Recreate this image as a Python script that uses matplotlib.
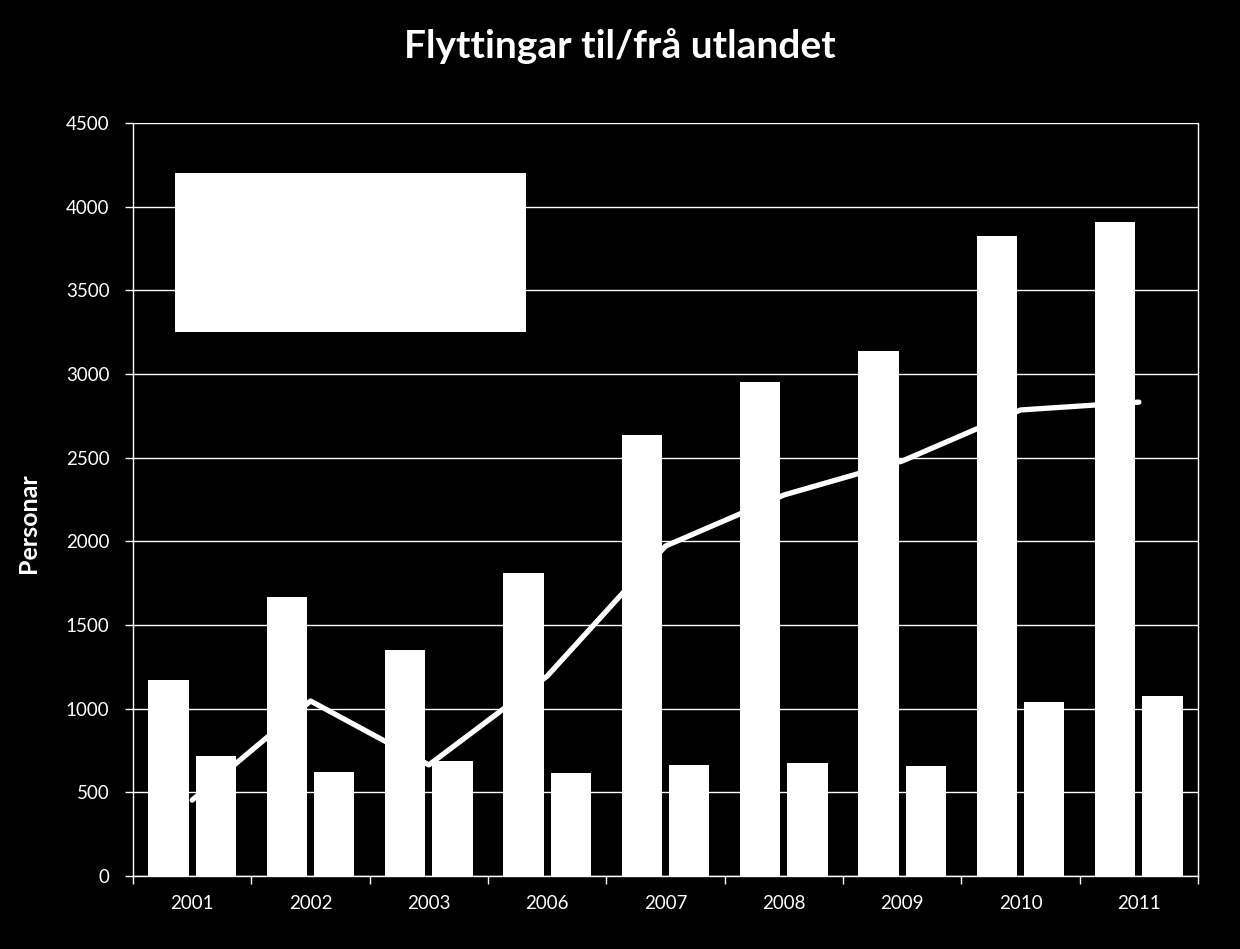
import matplotlib.pyplot as plt
import matplotlib.patches as mpatches
import numpy as np

plt.rcParams['font.family'] = ['Lato', 'DejaVu Sans']

years = ['2001', '2002', '2003', '2006', '2007', '2008', '2009', '2010', '2011']
innflytting = [1171, 1667, 1351, 1811, 2635, 2952, 3137, 3825, 3908]
utflytting = [717, 621, 687, 616, 663, 675, 657, 1040, 1076]
netto = [454, 1046, 664, 1195, 1972, 2277, 2480, 2785, 2832]

x = np.arange(len(years))

fig = plt.figure(figsize=(12.4, 9.49), dpi=100, facecolor='black')
ax = fig.add_axes([0.1073, 0.0769, 0.8589, 0.7935], facecolor='black')

ax.bar(x - 0.2, innflytting, width=0.34, color='white', zorder=2)
ax.bar(x + 0.2, utflytting, width=0.34, color='white', zorder=2)
ax.plot(x, netto, color='white', lw=3.8, solid_capstyle='round',
        solid_joinstyle='round', zorder=3)

ax.set_xlim(-0.5, len(years) - 0.5)
ax.set_ylim(0, 4500)
ax.set_yticks(np.arange(0, 4501, 500))
ax.yaxis.grid(True, color='white', lw=1)
ax.set_axisbelow(True)

ax.set_xticks(x)
ax.set_xticklabels(years)
ax.set_xticks(np.arange(-0.5, len(years)), minor=True)
ax.tick_params(axis='x', which='major', length=0, colors='white',
               labelsize=13.5, pad=14)
ax.tick_params(axis='x', which='minor', length=6, color='white', width=1)
ax.tick_params(axis='y', colors='white', labelsize=13.5, length=6, width=1,
               pad=11)

for s in ['left', 'bottom', 'right']:
    ax.spines[s].set_color('white')
    ax.spines[s].set_linewidth(1)
ax.spines['top'].set_visible(False)

ax.set_ylabel('Personar', color='white', fontsize=18, fontweight='bold',
              va='center')
ax.yaxis.set_label_coords(-0.0986, 0.469)

# blank white legend box
ax.add_patch(mpatches.Rectangle((0.039, 0.722), 0.33, 0.212,
                                transform=ax.transAxes, facecolor='white',
                                edgecolor='none', zorder=4))

fig.text(0.5, 0.952, 'Flyttingar til/frå utlandet', color='white',
         fontsize=28, fontweight='bold', ha='center', va='center')

fig.savefig('out.png', dpi=100, facecolor='black')
